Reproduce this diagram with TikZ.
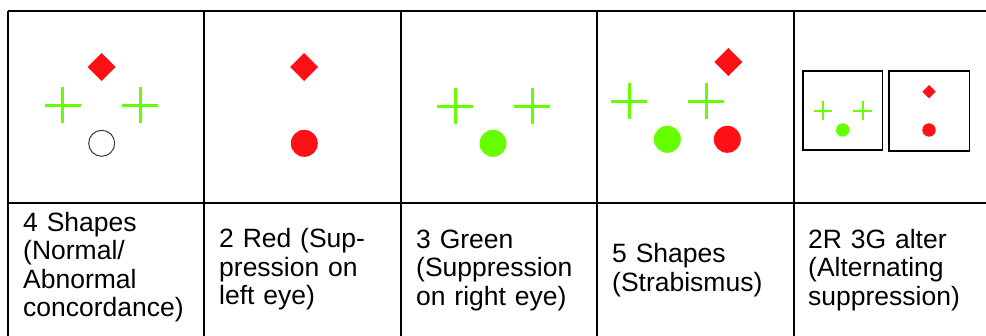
\documentclass[tikz,border=0pt]{standalone}
\usepackage{fontspec}
\setmainfont{Liberation Sans}
\definecolor{redc}{RGB}{255,16,20}
\definecolor{greenc}{RGB}{102,255,0}
\definecolor{ringc}{RGB}{50,60,66}
\newcommand{\plusmk}[4]{\draw[greenc, line width=#4] (#1-#3,#2) -- (#1+#3,#2) (#1,#2-#3) -- (#1,#2+#3);}
\newcommand{\diamk}[3]{\fill[redc] (#1,#2-#3) -- (#1+#3,#2) -- (#1,#2+#3) -- (#1-#3,#2) -- cycle;}
\tikzset{
  grid/.style={line width=2pt, black},
  innerbox/.style={line width=1.6pt, black},
  celltext/.style={anchor=base west, inner sep=0pt, text width=180pt, align=left,
    font=\fontsize{26.5}{28.5}\selectfont}
}
\begin{document}
\begin{tikzpicture}[x=1pt, y=-1pt]
\useasboundingbox (0,0) rectangle (986,335);
% table grid
\draw[grid] (8,11) -- (987,11);
\draw[grid] (8,203) -- (987,203);
\foreach \xx in {8,204,401,597,794} { \draw[grid] (\xx,11) -- (\xx,336); }
% column 1
\diamk{101.7}{67}{14}
\plusmk{62.7}{105}{18}{3pt}
\plusmk{140}{105}{18}{3pt}
\draw[ringc, line width=1pt] (101.7,143.3) circle[radius=13];
% column 2
\diamk{304}{67}{14}
\fill[redc] (304.3,143.3) circle[radius=13.5];
% column 3
\plusmk{455}{106}{18}{3pt}
\plusmk{532}{106}{18}{3pt}
\fill[greenc] (493,143.3) circle[radius=13.5];
% column 4
\diamk{728.3}{62}{14}
\plusmk{629}{101.3}{18}{3pt}
\plusmk{706}{101.3}{18}{3pt}
\fill[greenc] (667.3,139.3) circle[radius=13.5];
\fill[redc] (727.3,139.3) circle[radius=13.5];
% column 5
\draw[innerbox] (802.7,70.7) rectangle (882.3,150);
\draw[innerbox] (889,70.7) rectangle (969.3,151);
\plusmk{823}{110.7}{9.3}{1.9pt}
\plusmk{862.7}{110.7}{9.3}{1.9pt}
\fill[greenc] (842.7,130) circle[radius=6.7];
\diamk{929}{91.7}{6.7}
\fill[redc] (929,130) circle[radius=6.7];
% labels
\node[celltext] (t1) at (23,231) {4 Shapes\\(Normal/\\Abnormal\\concordance)};
\node[celltext] (t2) at (219,247.5) {2 Red (Sup-\\pression on\\left eye)};
\node[celltext] (t3) at (416,248) {3 Green\\(Suppression\\on right eye)};
\node[celltext] (t4) at (612,262.5) {5 Shapes\\(Strabismus)};
\node[celltext] (t5) at (808,248) {2R 3G alter\\(Alternating\\suppression)};
\end{tikzpicture}
\end{document}
